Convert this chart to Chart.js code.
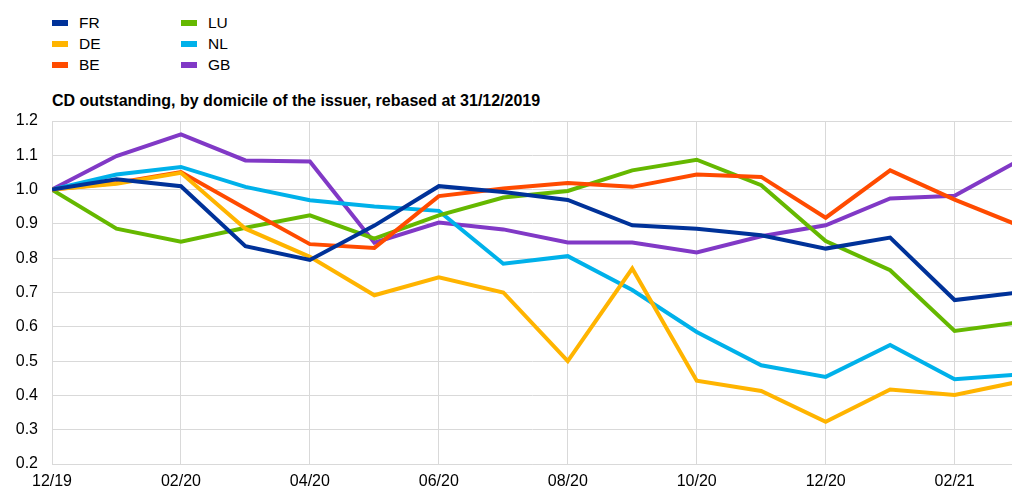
<!DOCTYPE html>
<html>
<head>
<meta charset="utf-8">
<script src="https://cdn.jsdelivr.net/npm/chart.js@4/dist/chart.umd.min.js"></script>
<style>
  html, body { margin: 0; padding: 0; background: #fff; }
  body { width: 1012px; height: 488px; position: relative; overflow: hidden; font-family: "Liberation Sans", Arial, sans-serif; color: #000; }
  #legend { position: absolute; left: 52px; top: 12px; display: grid; grid-template-columns: 129px 129px; grid-auto-flow: column; grid-template-rows: repeat(3, 21px); }
  .item { display: flex; align-items: center; font-size: 15.5px; height: 21px; }
  .sw { width: 16px; height: 6px; margin-right: 11px; }
  #title { position: absolute; left: 52px; top: 92px; font-size: 16px; font-weight: bold; white-space: nowrap; }
  #wrap { position: absolute; left: 0; top: 0; width: 1012px; height: 488px; }
</style>
</head>
<body>
<div id="legend"></div>
<div id="title">CD outstanding, by domicile of the issuer, rebased at 31/12/2019</div>
<div id="wrap"><canvas id="c"></canvas></div>
<script>
// months 12/19 .. 03/21
const months = ['12/19','01/20','02/20','03/20','04/20','05/20','06/20','07/20','08/20','09/20','10/20','11/20','12/20','01/21','02/21','03/21'];

const FR = [1.00, 1.03, 1.01, 0.835, 0.795, 0.895, 1.01, 0.993, 0.97, 0.896, 0.886, 0.867, 0.828, 0.86, 0.678, 0.70];
const DE = [1.00, 1.017, 1.049, 0.886, 0.804, 0.692, 0.744, 0.70, 0.50, 0.77, 0.443, 0.413, 0.323, 0.417, 0.401, 0.44];
const BE = [1.00, 1.019, 1.051, 0.945, 0.841, 0.83, 0.981, 1.003, 1.019, 1.008, 1.044, 1.037, 0.918, 1.056, 0.971, 0.895];
const LU = [1.00, 0.886, 0.848, 0.889, 0.925, 0.857, 0.925, 0.977, 0.996, 1.056, 1.087, 1.013, 0.85, 0.765, 0.588, 0.613];
const NL = [1.00, 1.044, 1.066, 1.008, 0.969, 0.951, 0.938, 0.784, 0.806, 0.707, 0.585, 0.488, 0.454, 0.547, 0.447, 0.461];
const GB = [1.00, 1.098, 1.161, 1.085, 1.082, 0.845, 0.904, 0.884, 0.846, 0.846, 0.817, 0.864, 0.896, 0.974, 0.982, 1.085];

const series = [
  { label: 'FR', data: FR, color: '#003299' },
  { label: 'DE', data: DE, color: '#FFB400' },
  { label: 'BE', data: BE, color: '#FF4B00' },
  { label: 'LU', data: LU, color: '#65B800' },
  { label: 'NL', data: NL, color: '#00B1EA' },
  { label: 'GB', data: GB, color: '#8139C6' },
];

// legend, two columns
const leg = document.getElementById('legend');
series.forEach(s => {
  const d = document.createElement('div');
  d.className = 'item';
  d.innerHTML = '<span class="sw" style="background:' + s.color + '"></span>' + s.label;
  leg.appendChild(d);
});

const font = { family: '"Liberation Sans", Arial, sans-serif', size: 16 };
const grid = '#d9d9d9';

new Chart(document.getElementById('c'), {
  type: 'line',
  data: {
    datasets: series.map(s => ({
      label: s.label,
      data: s.data.map((v, i) => ({ x: i, y: v })),
      borderColor: s.color, backgroundColor: s.color,
      borderWidth: 4, pointRadius: 0, tension: 0, fill: false,
    }))
  },
  options: {
    responsive: true, maintainAspectRatio: false, animation: false,
    layout: { padding: { top: 121, left: 0, right: 0, bottom: 0 } },
    plugins: { legend: { display: false }, tooltip: { enabled: false }, title: { display: false } },
    scales: {
      x: {
        type: 'linear', min: 0, max: 14.89,
        afterBuildTicks: sc => { sc.ticks = months.map((m, i) => ({ value: i })).filter(t => t.value % 2 === 0); },
        afterFit: sc => { sc.height = 24; },
        ticks: { color: '#000', font, padding: 8, maxRotation: 0, autoSkip: false, callback: v => months[v] },
        grid: { color: grid, lineWidth: 1, drawTicks: false },
        border: { color: grid },
      },
      y: {
        min: 0.2, max: 1.2,
        afterFit: sc => { sc.width = 52; },
        ticks: { stepSize: 0.1, color: '#000', font, padding: 14, callback: v => v.toFixed(1) },
        grid: { color: grid, lineWidth: 1, drawTicks: false },
        border: { color: grid },
      }
    }
  }
});
</script>
</body>
</html>
